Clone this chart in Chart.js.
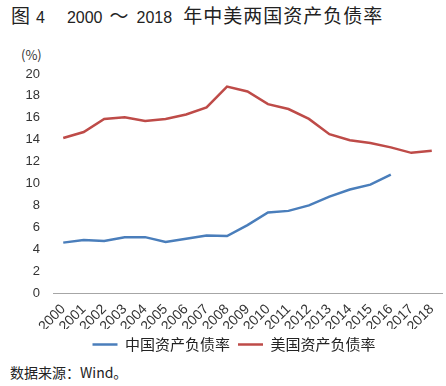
<!DOCTYPE html>
<html>
<head>
<meta charset="utf-8">
<script src="https://cdn.jsdelivr.net/npm/chart.js@4"></script>
<style>
  body { margin: 0; background: #fff; font-family: "Noto Sans CJK SC", "DejaVu Sans", sans-serif; }
  #wrap { position: relative; width: 446px; height: 386px; }
  #title { position: absolute; left: 11px; top: 1px; color: #222; white-space: pre; font-size: 19px; }
  #title .num { font-family: "Liberation Sans", sans-serif; font-size: 16px; }
  #title .cjk { letter-spacing: 1px; }
  #unit { position: absolute; left: 21px; top: 45px; font-size: 13px; color: #333; }
  #source { position: absolute; left: 10px; top: 362px; font-size: 14px; color: #222; }
  #box { position: absolute; left: 0; top: 40px; width: 446px; height: 322px; }
</style>
</head>
<body>
<div id="wrap">
  <div id="title"><span>图</span><span class="num" style="margin-left:6px">4</span><span class="num" style="margin-left:22px">2000</span><span style="margin-left:7px">～</span><span class="num" style="margin-left:8px">2018</span><span class="cjk" style="margin-left:11px">年中美两国资产负债率</span></div>
  <div id="unit">(%)</div>
  <div id="box"><canvas id="debtChart"></canvas></div>
  <div id="source">数据来源：Wind。</div>
</div>
<script>
const years = ['2000', '2001', '2002', '2003', '2004', '2005', '2006', '2007', '2008', '2009',
               '2010', '2011', '2012', '2013', '2014', '2015', '2016', '2017', '2018'];
const chinaData = [4.6, 4.85, 4.75, 5.1, 5.1, 4.65, 4.95, 5.25, 5.2, 6.2,
                   7.35, 7.5, 8.0, 8.8, 9.45, 9.9, 10.8, null, null];
const usData = [14.15, 14.7, 15.9, 16.05, 15.7, 15.9, 16.3, 16.95, 18.85, 18.4,
                17.25, 16.8, 15.9, 14.5, 13.95, 13.7, 13.3, 12.8, 13.0];
const yTicks = [0, 2, 4, 6, 8, 10, 12, 14, 16, 18, 20];

document.addEventListener("DOMContentLoaded", function() {
    const ctx = document.getElementById('debtChart').getContext('2d');
    const debtChart = new Chart(ctx, {
        type: 'line',
        data: {
            labels: years,
            datasets: [
                {
                    label: '中国资产负债率',
                    data: chinaData,
                    borderColor: '#4A7EBB',
                    backgroundColor: '#4A7EBB',
                    borderWidth: 2.5,
                    pointRadius: 0,
                    tension: 0,
                    fill: false
                },
                {
                    label: '美国资产负债率',
                    data: usData,
                    borderColor: '#BE4B48',
                    backgroundColor: '#BE4B48',
                    borderWidth: 2.5,
                    pointRadius: 0,
                    tension: 0,
                    fill: false
                }
            ]
        },
        options: {
            responsive: true,
            maintainAspectRatio: false,
            animation: false,
            layout: { padding: { left: 26, right: 4, top: 34, bottom: 0 } },
            scales: {
                x: {
                    offset: true,
                    afterFit: function(scale) { scale.height = 36; },
                    grid: { display: false },
                    border: { display: true, color: '#A6A6A6', width: 1 },
                    ticks: {
                        autoSkip: false,
                        maxRotation: 45,
                        minRotation: 45,
                        padding: 0,
                        color: '#333',
                        font: { family: 'Liberation Sans', size: 14 }
                    }
                },
                y: {
                    min: 0,
                    max: 20,
                    afterFit: function(scale) { scale.width = 27; },
                    afterBuildTicks: function(scale) {
                        scale.ticks = yTicks.map(v => ({ value: v }));
                    },
                    grid: { display: false, drawTicks: false },
                    border: { display: false },
                    ticks: {
                        padding: 13,
                        color: '#333',
                        font: { family: 'Liberation Sans', size: 13 }
                    }
                }
            },
            plugins: {
                legend: {
                    position: 'bottom',
                    labels: {
                        usePointStyle: true,
                        pointStyle: 'line',
                        pointStyleWidth: 25,
                        boxWidth: 25,
                        padding: 8,
                        color: '#222',
                        font: { family: 'Noto Sans CJK SC', size: 15 }
                    }
                },
                tooltip: { enabled: false }
            }
        }
    });
});
</script>
</body>
</html>
